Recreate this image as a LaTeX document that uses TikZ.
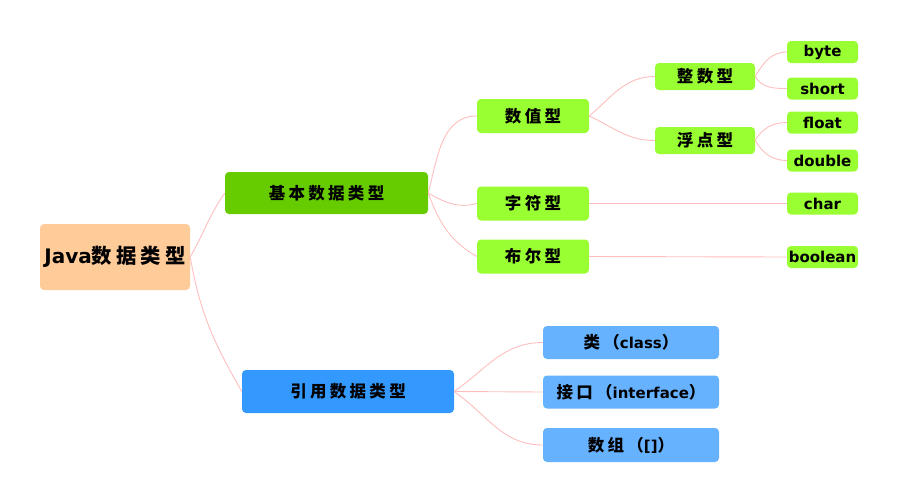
\documentclass[tikz,border=0pt]{standalone}
\usepackage{fontspec}
\setmainfont{DejaVu Sans}
\newfontfamily\cjk{Noto Sans CJK SC}[LetterSpace=20,Scale=1.1]
\definecolor{rootfill}{RGB}{255,204,153}
\definecolor{basicfill}{RGB}{102,204,0}
\definecolor{leaffill}{RGB}{153,255,51}
\definecolor{referfill}{RGB}{51,153,255}
\definecolor{subfill}{RGB}{102,178,255}
\definecolor{linkpink}{RGB}{255,190,190}
\begin{document}
\begin{tikzpicture}[x=1pt,y=1pt,
    box/.style={rectangle,rounded corners=4pt,inner sep=0pt,font=\bfseries\fontsize{15}{18}\selectfont},
    mid/.style={box,fill=leaffill,minimum width=112pt,minimum height=34pt},
    small/.style={box,fill=leaffill,minimum width=100pt,minimum height=27pt},
    leaf/.style={box,fill=leaffill,minimum width=71pt,minimum height=22pt},
    sub/.style={box,fill=subfill,minimum width=176pt,minimum height=33pt},
    link/.style={draw=linkpink,line width=0.9pt}]
    \useasboundingbox (0,0) rectangle (918,-483);
    % root and first level
    \node[box,fill=rootfill,minimum width=150pt,minimum height=66pt,font=\bfseries\fontsize{20}{24}\selectfont] (root) at (115,-257) {Java{\fontsize{18.5}{24}\cjk 数据类型}};
    \node[box,fill=basicfill,minimum width=203pt,minimum height=42pt] (basic) at (326.5,-193) {\cjk 基本数据类型};
    \node[box,fill=referfill,minimum width=212pt,minimum height=43pt] (refer) at (348,-391.5) {\cjk 引用数据类型};
    % basic types
    \node[mid] (num) at (533,-116) {\cjk 数值型};
    \node[mid] (chr) at (533,-203.5) {\cjk 字符型};
    \node[mid] (bool) at (533,-256.5) {\cjk 布尔型};
    \node[small] (int) at (705,-76.5) {\cjk 整数型};
    \node[small] (flt) at (705,-140.5) {\cjk 浮点型};
    \node[leaf] (byte) at (822.5,-52) {byte};
    \node[leaf] (short) at (822.5,-88.5) {short};
    \node[leaf] (float) at (822.5,-122.5) {float};
    \node[leaf] (double) at (822.5,-160.5) {double};
    \node[leaf] (char) at (822.5,-203.5) {char};
    \node[leaf] (boolean) at (822.5,-257) {boolean};
    % reference types
    \node[sub] (cls) at (631,-342.5) {{\cjk 类（}class{\cjk ）}};
    \node[sub] (itf) at (631,-392) {{\cjk 接口（}interface{\cjk ）}};
    \node[sub,minimum height=34pt] (arr) at (631,-445) {{\cjk 数组（}[]{\cjk ）}};
    % links
    \draw[link] (root.east) to[out=60,in=235] (basic.west);
    \draw[link] (root.east) to[out=-80,in=120] (refer.west);
    \draw[link] (basic.east) to[out=75,in=180] (num.west);
    \draw[link] (basic.east) to[out=-30,in=195] (chr.west);
    \draw[link] (basic.east) to[out=-70,in=150] (bool.west);
    \draw[link] (num.east) to[out=40,in=180] (int.west);
    \draw[link] (num.east) to[out=-25,in=180] (flt.west);
    \draw[link] (int.east) to[out=60,in=180] (byte.west);
    \draw[link] (int.east) to[out=-60,in=180] (short.west);
    \draw[link] (flt.east) to[out=60,in=180] (float.west);
    \draw[link] (flt.east) to[out=-60,in=180] (double.west);
    \draw[link] (chr.east) -- (char.west);
    \draw[link] (bool.east) -- (boolean.west);
    \draw[link] (refer.east) to[out=35,in=180] (cls.west);
    \draw[link] (refer.east) -- (itf.west);
    \draw[link] (refer.east) to[out=-35,in=180] (arr.west);
\end{tikzpicture}
\end{document}
